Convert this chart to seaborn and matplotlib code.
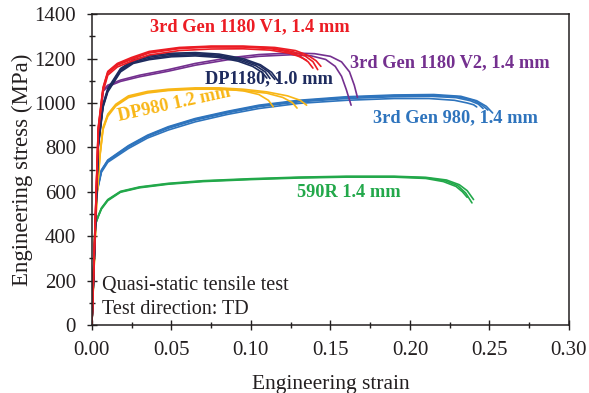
"""
Engineering stress-strain curves, quasi-static tensile tests (TD).
"""
import numpy as np
import pandas as pd
import matplotlib
matplotlib.use('Agg')
import matplotlib.pyplot as plt
import seaborn as sns

# --- data (strain, MPa), one list per repeat ---
green_strain = [
    [0, 0.002, 0.004, 0.006, 0.010, 0.018, 0.030, 0.048, 0.070, 0.100, 0.130, 0.160, 0.190, 0.210, 0.222, 0.230, 0.235, 0.239],
    [0, 0.002, 0.004, 0.006, 0.010, 0.018, 0.030, 0.048, 0.070, 0.100, 0.130, 0.160, 0.190, 0.210, 0.221, 0.229, 0.233, 0.236],
    [0, 0.002, 0.004, 0.006, 0.010, 0.018, 0.030, 0.048, 0.070, 0.100, 0.130, 0.160, 0.190, 0.210, 0.223, 0.231, 0.236, 0.240],
]
green_stress = [
    [0, 450, 490, 525, 563, 600, 620, 636, 648, 657, 664, 668, 668, 663, 650, 628, 595, 550],
    [0, 448, 488, 522, 560, 598, 618, 634, 646, 655, 662, 666, 666, 660, 646, 624, 600, 575],
    [0, 452, 492, 527, 565, 602, 622, 638, 650, 659, 666, 670, 670, 665, 653, 632, 605, 565],
]

blue_strain = [
    [0, 0.003, 0.006, 0.010, 0.023, 0.035, 0.048, 0.065, 0.085, 0.105, 0.130, 0.160, 0.190, 0.215, 0.232, 0.242, 0.248, 0.252],
    [0, 0.003, 0.006, 0.010, 0.023, 0.035, 0.048, 0.065, 0.085, 0.105, 0.130, 0.160, 0.190, 0.212, 0.228, 0.236, 0.240, 0.242],
    [0, 0.003, 0.006, 0.010, 0.023, 0.035, 0.048, 0.065, 0.085, 0.105, 0.130, 0.160, 0.190, 0.213, 0.229, 0.238, 0.243, 0.246],
    [0, 0.003, 0.006, 0.010, 0.023, 0.035, 0.048, 0.065, 0.085, 0.105, 0.130, 0.160, 0.190, 0.214, 0.230, 0.240, 0.245, 0.249],
]
blue_stress = [
    [0, 600, 698, 743, 808, 855, 893, 930, 962, 990, 1012, 1028, 1036, 1038, 1030, 1010, 985, 955],
    [0, 590, 688, 733, 795, 842, 878, 915, 948, 975, 998, 1012, 1020, 1020, 1012, 1000, 992, 982],
    [0, 595, 693, 738, 802, 849, 886, 923, 955, 983, 1005, 1020, 1028, 1030, 1024, 1010, 995, 975],
    [0, 598, 696, 741, 805, 852, 890, 927, 959, 987, 1009, 1025, 1033, 1035, 1028, 1012, 992, 968],
]

yellow_strain = [
    [0, 0.003, 0.005, 0.007, 0.010, 0.015, 0.023, 0.035, 0.048, 0.065, 0.080, 0.095, 0.105, 0.111, 0.114],
    [0, 0.003, 0.005, 0.007, 0.010, 0.015, 0.023, 0.035, 0.048, 0.065, 0.080, 0.095, 0.110, 0.120, 0.126, 0.129],
    [0, 0.003, 0.005, 0.007, 0.010, 0.015, 0.023, 0.035, 0.048, 0.065, 0.080, 0.095, 0.110, 0.123, 0.131, 0.135],
]
yellow_stress = [
    [0, 560, 760, 885, 945, 990, 1028, 1048, 1058, 1064, 1064, 1055, 1038, 1012, 983],
    [0, 555, 755, 880, 940, 986, 1024, 1045, 1056, 1062, 1062, 1056, 1044, 1025, 1002, 977],
    [0, 565, 765, 890, 950, 994, 1032, 1052, 1062, 1068, 1068, 1062, 1050, 1032, 1012, 990],
]

purple_strain = [
    [0, 0.004, 0.007, 0.010, 0.018, 0.030, 0.048, 0.065, 0.085, 0.105, 0.125, 0.140, 0.150, 0.157, 0.162, 0.165, 0.167],
    [0, 0.004, 0.007, 0.010, 0.018, 0.030, 0.048, 0.065, 0.085, 0.105, 0.125, 0.138, 0.147, 0.153, 0.157, 0.160, 0.163],
]
purple_stress = [
    [0, 820, 1058, 1080, 1103, 1125, 1150, 1178, 1202, 1218, 1225, 1222, 1210, 1185, 1140, 1080, 1025],
    [0, 815, 1052, 1074, 1097, 1118, 1143, 1170, 1194, 1210, 1217, 1212, 1196, 1165, 1120, 1060, 990],
]

navy_strain = [
    [0, 0.004, 0.007, 0.010, 0.018, 0.026, 0.036, 0.050, 0.065, 0.080, 0.092, 0.101, 0.107, 0.110],
    [0, 0.004, 0.007, 0.010, 0.018, 0.026, 0.036, 0.050, 0.065, 0.080, 0.093, 0.103, 0.109, 0.112],
    [0, 0.004, 0.007, 0.010, 0.018, 0.026, 0.036, 0.050, 0.065, 0.080, 0.094, 0.105, 0.111, 0.115],
    [0, 0.004, 0.007, 0.010, 0.018, 0.026, 0.036, 0.050, 0.065, 0.080, 0.095, 0.106, 0.113, 0.117],
]
navy_stress = [
    [0, 800, 980, 1050, 1140, 1178, 1195, 1208, 1212, 1205, 1188, 1165, 1138, 1112],
    [0, 805, 985, 1055, 1145, 1183, 1200, 1213, 1217, 1210, 1192, 1168, 1140, 1110],
    [0, 810, 990, 1060, 1150, 1188, 1206, 1219, 1222, 1215, 1196, 1170, 1140, 1106],
    [0, 815, 995, 1065, 1155, 1193, 1212, 1224, 1227, 1220, 1200, 1172, 1138, 1100],
]

red_strain = [
    [0, 0.004, 0.007, 0.010, 0.016, 0.025, 0.036, 0.055, 0.075, 0.095, 0.112, 0.124, 0.131, 0.136, 0.139],
    [0, 0.004, 0.007, 0.010, 0.016, 0.025, 0.036, 0.055, 0.075, 0.095, 0.112, 0.124, 0.130, 0.133, 0.135],
    [0, 0.004, 0.007, 0.010, 0.016, 0.025, 0.036, 0.055, 0.075, 0.095, 0.115, 0.128, 0.136, 0.141, 0.144],
    [0, 0.004, 0.007, 0.010, 0.016, 0.025, 0.036, 0.055, 0.075, 0.095, 0.113, 0.126, 0.134, 0.139, 0.142],
]
red_stress = [
    [0, 880, 1060, 1134, 1170, 1196, 1225, 1245, 1252, 1252, 1245, 1230, 1210, 1185, 1157],
    [0, 870, 1050, 1125, 1162, 1188, 1216, 1236, 1243, 1244, 1238, 1224, 1210, 1200, 1192],
    [0, 890, 1070, 1142, 1178, 1205, 1232, 1250, 1256, 1256, 1250, 1236, 1214, 1190, 1165],
    [0, 885, 1065, 1138, 1174, 1200, 1228, 1247, 1254, 1254, 1248, 1232, 1212, 1186, 1150],
]

materials = ['590R', '3rd Gen 980', 'DP980', '3rd Gen 1180 V2', 'DP1180', '3rd Gen 1180 V1']
colors = ['#22a84a', '#2e74bd', '#f8b616', '#74308f', '#1e2b5e', '#ec1c24']
strains = [green_strain, blue_strain, yellow_strain, purple_strain, navy_strain, red_strain]
stresses = [green_stress, blue_stress, yellow_stress, purple_stress, navy_stress, red_stress]

rows = []
for mat, s_list, p_list in zip(materials, strains, stresses):
    for k, (s, p) in enumerate(zip(s_list, p_list)):
        for i, (x, y) in enumerate(zip(s, p)):
            rows.append((mat, f'{mat}-{k}', i, x, y))
df = pd.DataFrame(rows, columns=['material', 'test', 'order', 'strain', 'stress'])

sns.set_style('ticks')
plt.rcParams['font.family'] = ['Liberation Serif', 'DejaVu Serif']
ink = '#231f20'

fig = plt.figure(figsize=(5.89, 3.93), dpi=100)
ax = fig.add_axes([0.156, 0.173, 0.81, 0.791])

sns.lineplot(data=df, x='strain', y='stress', hue='material', units='test',
             estimator=None, sort=False, palette=dict(zip(materials, colors)),
             hue_order=materials, legend=False, lw=1.2, ax=ax)

ax.set_xlim(0, 0.30)
ax.set_ylim(0, 1400)
ax.set_xticks(np.arange(0, 0.301, 0.05))
ax.set_xticklabels([f'{v:.2f}' for v in np.arange(0, 0.301, 0.05)])
ax.set_xticks(np.arange(0, 0.301, 0.025), minor=True)
ax.set_yticks(np.arange(0, 1401, 200))
ax.set_yticks(np.arange(0, 1401, 100), minor=True)
ax.tick_params(which='major', direction='inout', length=7, width=1, labelsize=15,
               pad=8, colors=ink, labelcolor=ink)
ax.tick_params(which='minor', direction='inout', length=4, width=1, colors=ink)
for sp in ax.spines.values():
    sp.set_visible(True)
    sp.set_color(ink)
    sp.set_linewidth(1.1)
ax.set_xlabel('Engineering strain', fontsize=15.5, color=ink, labelpad=11)
ax.set_ylabel('Engineering stress (MPa)', fontsize=16.5, color=ink, labelpad=1)

lab = dict(fontsize=13.2, fontweight='bold', va='center')
ax.text(0.0991, 1342, '3rd Gen 1180 V1, 1.4 mm', color=colors[5], ha='center', **lab)
ax.text(0.162, 1180, '3rd Gen 1180 V2, 1.4 mm', color=colors[3], ha='left', **lab)
ax.text(0.071, 1108, 'DP1180, 1.0 mm', color=colors[4], ha='left', **lab)
ax.text(0.052, 995, 'DP980 1.2 mm', color=colors[2], ha='center', rotation=12.4,
        rotation_mode='anchor', **lab)
ax.text(0.177, 932, '3rd Gen 980, 1.4 mm', color=colors[1], ha='left', **lab)
ax.text(0.129, 599, '590R 1.4 mm', color=colors[0], ha='left', **lab)
ax.text(0.0063, 180, 'Quasi-static tensile test', fontsize=14.5, color=ink, ha='left', va='center')
ax.text(0.0063, 68, 'Test direction: TD', fontsize=14.5, color=ink, ha='left', va='center')

plt.savefig('out.png', dpi=100)
plt.close()
print("Saved: out.png")
